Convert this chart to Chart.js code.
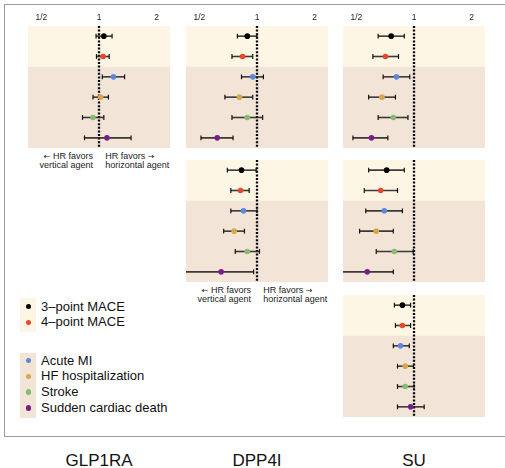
<!DOCTYPE html>
<html>
<head>
<meta charset="utf-8">
<script src="https://cdn.jsdelivr.net/npm/chart.js@4.4.1/dist/chart.umd.min.js"></script>
<style>
  html, body { margin: 0; padding: 0; background: #fff; }
  body { width: 505px; height: 468px; position: relative; overflow: hidden;
         font-family: "Liberation Sans", Arial, Helvetica, sans-serif; color: #111; }
  .frame { position: absolute; left: 4px; top: 4px; width: 540px; height: 431px;
           border: 1px solid #9a9a9a; border-right: none; }
  canvas { position: absolute; }
  .note { position: absolute; font-size: 9px; line-height: 8px; color: #222; white-space: nowrap; }
  .note.l { text-align: right; }
  .note.r { text-align: left; }
  .note .arr { font-family: "DejaVu Sans", sans-serif; font-size: 8px; }
  .agent { position: absolute; top: 451px; font-size: 17px; line-height: 20px; width: 120px;
           margin-left: -60px; text-align: center; color: #111; }
  .lgbox { position: absolute; left: 20px; width: 16px; }
  .lgitem { position: absolute; left: 0; height: 16px; font-size: 13px; line-height: 16px; white-space: nowrap; }
  .lgitem span.dot { position: absolute; left: 25.5px; top: 5.4px; width: 5.4px; height: 5.4px; border-radius: 50%; }
  .lgitem span.txt { position: absolute; left: 41px; top: 0; }
</style>
</head>
<body>
<div class="frame"></div>

<script>
// ---- data -------------------------------------------------------------
const outcomes = ['3–point MACE', '4–point MACE', 'Acute MI', 'HF hospitalization', 'Stroke', 'Sudden cardiac death'];
const outcomeColors = ['#000000', '#e8472b', '#5b87dc', '#d8a74c', '#84bd70', '#7a1c8c'];
const agents = ['GLP1RA', 'DPP4I', 'SU'];
const tickValues = [0.5, 1, 2];
const tickLabels = ['1/2', '1', '2'];

// hazard ratios with 95% CI, one panel per comparison (row r, column c)
const hrR1C1 = [1.06, 1.05, 1.19, 1.02, 0.93, 1.10];
const loR1C1 = [0.965, 0.97, 1.04, 0.93, 0.82, 0.84];
const hiR1C1 = [1.17, 1.13, 1.36, 1.12, 1.06, 1.47];

const hrR1C2 = [0.89, 0.84, 0.95, 0.81, 0.89, 0.62];
const loR1C2 = [0.79, 0.74, 0.83, 0.68, 0.74, 0.51];
const hiR1C2 = [1.00, 0.95, 1.08, 0.95, 1.07, 0.75];

const hrR1C3 = [0.76, 0.71, 0.81, 0.68, 0.78, 0.60];
const loR1C3 = [0.65, 0.61, 0.69, 0.58, 0.65, 0.48];
const hiR1C3 = [0.89, 0.83, 0.95, 0.80, 0.93, 0.73];

const hrR2C2 = [0.83, 0.82, 0.85, 0.76, 0.89, 0.65];
const loR2C2 = [0.70, 0.73, 0.73, 0.67, 0.77, 0.38];
const hiR2C2 = [0.99, 0.91, 1.00, 0.86, 1.03, 0.96];

const hrR2C3 = [0.72, 0.67, 0.70, 0.635, 0.79, 0.57];
const loR2C3 = [0.58, 0.55, 0.56, 0.52, 0.635, 0.38];
const hiR2C3 = [0.89, 0.82, 0.87, 0.78, 0.99, 0.78];

const hrR3C3 = [0.87, 0.87, 0.85, 0.90, 0.90, 0.96];
const loR3C3 = [0.79, 0.80, 0.78, 0.82, 0.82, 0.82];
const hiR3C3 = [0.96, 0.96, 0.945, 0.995, 1.00, 1.13];

// ---- layout -------------------------------------------------------------
const xMin = 0.426, xMax = 2.347;
const colLeft = [28, 186, 343];
const rowTop = [26, 160, 295];
const panelW = 142, panelH = 122;
const tickBand = 18;              // room above the first row for the 1/2, 1, 2 labels
const bandMace = '#fef6e4';
const bandEvents = '#f2e4d7';

const panels = [
  { row: 0, col: 0, hr: hrR1C1, lo: loR1C1, hi: hiR1C1, note: true },
  { row: 0, col: 1, hr: hrR1C2, lo: loR1C2, hi: hiR1C2 },
  { row: 0, col: 2, hr: hrR1C3, lo: loR1C3, hi: hiR1C3 },
  { row: 1, col: 1, hr: hrR2C2, lo: loR2C2, hi: hiR2C2, note: true },
  { row: 1, col: 2, hr: hrR2C3, lo: loR2C3, hi: hiR2C3 },
  { row: 2, col: 2, hr: hrR3C3, lo: loR3C3, hi: hiR3C3 }
];

Chart.defaults.font.family = '"Liberation Sans", Arial, Helvetica, sans-serif';

// shaded outcome groups and the dotted HR = 1 reference line
const panelBackground = {
  id: 'panelBackground',
  beforeDatasetsDraw(chart) {
    const { ctx, chartArea: a, scales: { x, y } } = chart;
    const split = (y.getPixelForValue(1) + y.getPixelForValue(2)) / 2;
    ctx.save();
    ctx.fillStyle = bandMace;
    ctx.fillRect(a.left, a.top, a.width, split - a.top);
    ctx.fillStyle = bandEvents;
    ctx.fillRect(a.left, split, a.width, a.bottom - split);
    const x1 = x.getPixelForValue(1);
    ctx.strokeStyle = '#000';
    ctx.lineWidth = 2.3;
    ctx.setLineDash([2, 1.6]);
    ctx.beginPath();
    ctx.moveTo(x1, a.top);
    ctx.lineTo(x1, a.bottom + 1);
    ctx.stroke();
    ctx.restore();
  }
};

function makePanel(p) {
  const showTicks = p.row === 0;
  const canvas = document.createElement('canvas');
  const h = panelH + (showTicks ? tickBand : 0);
  canvas.width = panelW;
  canvas.height = h;
  canvas.style.left = colLeft[p.col] + 'px';
  canvas.style.top = (rowTop[p.row] - (showTicks ? tickBand : 0)) + 'px';
  canvas.style.width = panelW + 'px';
  canvas.style.height = h + 'px';
  document.body.appendChild(canvas);

  const datasets = [{
    label: 'HR',
    data: outcomes.map((o, i) => ({ x: p.hr[i], y: o })),
    backgroundColor: outcomeColors,
    borderColor: outcomeColors,
    pointRadius: 2.8,
    pointBorderWidth: 0,
    order: 0
  }];
  outcomes.forEach((o, i) => {
    datasets.push({
      label: o + ' CI',
      data: [{ x: p.lo[i], y: o }, { x: p.hi[i], y: o }],
      showLine: true,
      borderColor: 'rgba(38,38,38,0.9)',
      borderWidth: 1.6,
      pointStyle: 'line',
      rotation: 90,
      pointRadius: 2.4,
      pointBorderColor: '#111',
      pointBorderWidth: 1.2,
      clip: 0,
      order: 1
    });
  });

  const xScale = {
    type: 'logarithmic',
    min: xMin,
    max: xMax,
    position: 'top',
    display: showTicks,
    grid: { display: false, drawTicks: false },
    border: { display: false },
    afterBuildTicks: s => { s.ticks = tickValues.map(v => ({ value: v })); },
    ticks: {
      autoSkip: false,
      maxRotation: 0,
      padding: 3,
      color: '#222',
      font: { size: 8.5 },
      callback: (v, i) => tickLabels[i]
    }
  };
  if (showTicks) xScale.afterFit = s => { s.height = tickBand; };

  new Chart(canvas, {
    type: 'scatter',
    data: { labels: outcomes, datasets },
    options: {
      responsive: false,
      animation: false,
      events: [],
      devicePixelRatio: 1,
      layout: { padding: 0, autoPadding: false },
      plugins: { legend: { display: false }, tooltip: { enabled: false } },
      scales: {
        x: xScale,
        y: {
          type: 'category',
          labels: outcomes,
          offset: true,
          display: false
        }
      }
    },
    plugins: [panelBackground]
  });

  if (p.note) {
    const lineX = colLeft[p.col] + panelW / 2;
    const top = rowTop[p.row] + panelH + 3.5;
    const left = document.createElement('div');
    left.className = 'note l';
    left.style.right = (505 - (lineX - 6)) + 'px';
    left.style.top = top + 'px';
    left.innerHTML = '<span class="arr">←</span> HR favors<br>vertical agent';
    document.body.appendChild(left);
    const right = document.createElement('div');
    right.className = 'note r';
    right.style.left = (lineX + 6.3) + 'px';
    right.style.top = top + 'px';
    right.innerHTML = 'HR favors <span class="arr">→</span><br>horizontal agent';
    document.body.appendChild(right);
  }
}

panels.forEach(makePanel);

// column titles
agents.forEach((a, c) => {
  const d = document.createElement('div');
  d.className = 'agent';
  d.style.left = (colLeft[c] + panelW / 2) + 'px';
  d.textContent = a;
  document.body.appendChild(d);
});

// legend: the two MACE outcomes on the light band, the single events on the darker one
const legendGroups = [
  { items: [0, 1], boxTop: 298, boxH: 34, firstY: 298.5, bg: bandMace },
  { items: [2, 3, 4, 5], boxTop: 353, boxH: 65, firstY: 352.5, bg: bandEvents }
];
legendGroups.forEach(g => {
  const box = document.createElement('div');
  box.className = 'lgbox';
  box.style.top = g.boxTop + 'px';
  box.style.height = g.boxH + 'px';
  box.style.background = g.bg;
  document.body.appendChild(box);
  g.items.forEach((k, j) => {
    const it = document.createElement('div');
    it.className = 'lgitem';
    it.style.top = (g.firstY + j * 15.8) + 'px';
    it.innerHTML = '<span class="dot" style="background:' + outcomeColors[k] + '"></span><span class="txt">' + outcomes[k] + '</span>';
    document.body.appendChild(it);
  });
});
</script>
</body>
</html>
